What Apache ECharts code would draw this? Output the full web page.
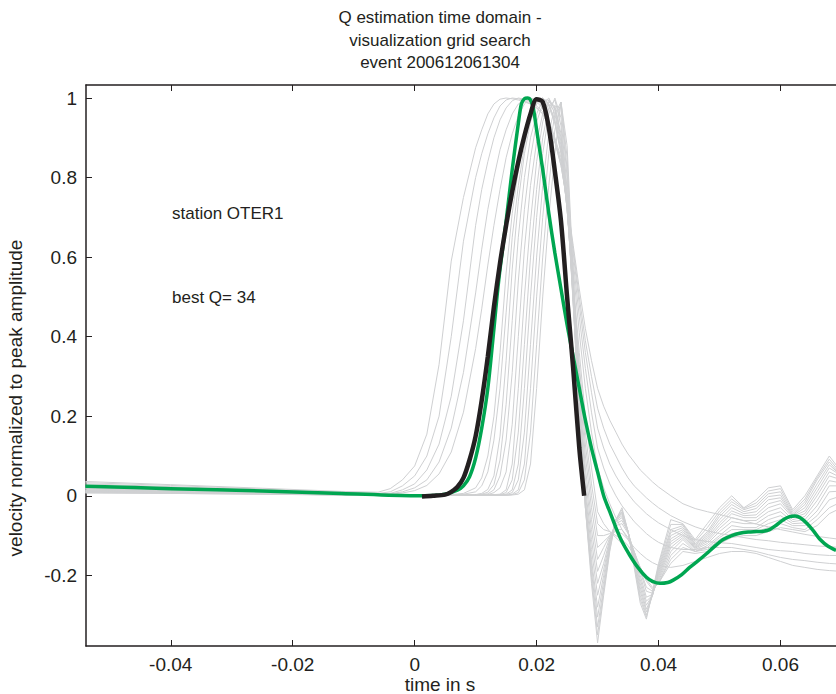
<!DOCTYPE html>
<html>
<head>
<meta charset="utf-8">
<script src="https://cdn.jsdelivr.net/npm/echarts@6.0.0/dist/echarts.min.js"></script>
<style>
html,body{margin:0;padding:0;background:#fff;}
#c{width:836px;height:694px;}
</style>
</head>
<body>
<div id="c"></div>
<script>
// ---- data (time in s, velocity normalized to peak amplitude) ----
const xTicks = [-0.04, -0.02, 0, 0.02, 0.04, 0.06];
const yTicks = [-0.2, 0, 0.2, 0.4, 0.6, 0.8, 1];

const titleLines = ['Q estimation time domain -', 'visualization grid search', 'event 200612061304'];
const stationText = 'station OTER1';
const bestQText = 'best Q= 34';
const xName = 'time in s';
const yName = 'velocity normalized to peak amplitude';

// common time grid of the grid-search (grey) traces
const gridT = [-0.054, -0.040, -0.025, -0.012, -0.006, -0.004, -0.002, 0.000, 0.002, 0.004, 0.006, 0.008,
  0.010, 0.011, 0.012, 0.013, 0.014, 0.015, 0.016, 0.017, 0.018, 0.019, 0.020, 0.021, 0.022, 0.023, 0.024,
  0.025, 0.026, 0.027, 0.028, 0.029, 0.030, 0.031, 0.032, 0.033, 0.034, 0.035, 0.036, 0.037, 0.038, 0.039, 0.040,
  0.042, 0.044, 0.046, 0.048, 0.050, 0.052, 0.054, 0.056, 0.058, 0.060, 0.062, 0.064, 0.066, 0.068, 0.070];

const grey0 = [0.036, 0.028, 0.019, 0.011,
  0.009, 0.018, 0.04, 0.075, 0.155, 0.33, 0.59, 0.75,
  0.875, 0.92, 0.96, 0.985, 0.997,
  1.0, 0.998, 0.995, 0.99, 0.985, 0.975, 0.96, 0.93, 0.89, 0.83,
  0.74, 0.63, 0.52, 0.42, 0.34, 0.27,
  0.225, 0.19, 0.16, 0.13, 0.105, 0.085, 0.065, 0.05, 0.035, 0.022,
  0.0, -0.02, -0.032, -0.04, -0.047, -0.055, -0.063, -0.071, -0.078, -0.085, -0.091, -0.097, -0.102, -0.106, -0.11];
const grey1 = [0.033, 0.026, 0.017, 0.009,
  0.006, 0.01, 0.025, 0.05, 0.1, 0.2, 0.4, 0.64,
  0.8, 0.86, 0.91, 0.95, 0.98,
  0.995, 1.0, 0.998, 0.993, 0.985, 0.975, 0.96, 0.93, 0.89, 0.83,
  0.74, 0.62, 0.5, 0.39, 0.3, 0.22,
  0.17, 0.13, 0.1, 0.07, 0.045, 0.025, 0.01, -0.005, -0.018, -0.03,
  -0.05, -0.065, -0.078, -0.088, -0.095, -0.1, -0.105, -0.11, -0.113, -0.117, -0.12, -0.123, -0.126, -0.128, -0.13];
const grey2 = [0.030, 0.023, 0.015, 0.008,
  0.005, 0.006, 0.015, 0.03, 0.065, 0.13, 0.25, 0.44,
  0.68, 0.77, 0.84, 0.9, 0.945,
  0.975, 0.993, 1.0, 0.997, 0.99, 0.98, 0.965, 0.935, 0.89, 0.84,
  0.74, 0.61, 0.48, 0.36, 0.26, 0.17,
  0.12, 0.08, 0.05, 0.025, 0.005, -0.015, -0.03, -0.045, -0.057, -0.068,
  -0.085, -0.1, -0.11, -0.115, -0.118, -0.12, -0.125, -0.13, -0.135, -0.138, -0.14, -0.145, -0.148, -0.15, -0.15];
const grey3 = [0.027, 0.021, 0.014, 0.007,
  0.004, 0.005, 0.01, 0.02, 0.04, 0.085, 0.17, 0.31,
  0.51, 0.62, 0.72, 0.8, 0.87,
  0.92, 0.96, 0.985, 0.997, 1.0, 0.99, 0.975, 0.94, 0.895, 0.84,
  0.73, 0.59, 0.45, 0.32, 0.21, 0.12,
  0.07, 0.03, 0.0, -0.025, -0.045, -0.065, -0.08, -0.095, -0.107, -0.117,
  -0.13, -0.135, -0.135, -0.13, -0.13, -0.13, -0.135, -0.14, -0.148, -0.155, -0.16, -0.163, -0.167, -0.17, -0.172];
const grey4 = [0.024, 0.019, 0.012, 0.006,
  0.004, 0.004, 0.007, 0.013, 0.026, 0.055, 0.11, 0.21,
  0.37, 0.47, 0.58, 0.68, 0.77,
  0.85, 0.91, 0.955, 0.985, 1.0, 0.995, 0.98, 0.945, 0.9, 0.85,
  0.73, 0.57, 0.41, 0.27, 0.16, 0.07,
  0.02, -0.02, -0.055, -0.085, -0.11, -0.13, -0.145, -0.158, -0.168, -0.175,
  -0.18, -0.175, -0.165, -0.155, -0.145, -0.14, -0.14, -0.145, -0.155, -0.165, -0.175, -0.18, -0.185, -0.188, -0.19];
const grey5 = [0.021, 0.016, 0.011, 0.005,
  0.003, 0.003, 0.002, 0.002, 0.002, 0.002, 0.003, 0.006,
  0.02, 0.045, 0.1, 0.2, 0.36,
  0.56, 0.71, 0.82, 0.9, 0.955, 0.99, 1.0, 0.98, 0.935, 0.86,
  0.72, 0.54, 0.36, 0.2, 0.07, -0.04,
  -0.07, -0.09, -0.105, -0.12, -0.14, -0.16, -0.185, -0.205, -0.22, -0.22,
  -0.17, -0.14, -0.145, -0.14, -0.12, -0.105, -0.1, -0.1, -0.09, -0.08, -0.085, -0.09, -0.075, -0.045, -0.03];
const grey5a = [0.020, 0.015, 0.010, 0.005,
  0.003, 0.002, 0.002, 0.002, 0.002, 0.002, 0.002, 0.004,
  0.01, 0.025, 0.06, 0.14, 0.27,
  0.46, 0.65, 0.78, 0.88, 0.95, 0.99, 1.0, 0.985, 0.94, 0.865,
  0.72, 0.53, 0.33, 0.16, 0.03, -0.07,
  -0.085, -0.09, -0.1, -0.11, -0.125, -0.15, -0.18, -0.21, -0.23, -0.22,
  -0.16, -0.13, -0.14, -0.135, -0.11, -0.095, -0.09, -0.09, -0.08, -0.07, -0.08, -0.085, -0.06, -0.03, -0.015];
const grey6 = [0.018, 0.014, 0.009, 0.004,
  0.003, 0.002, 0.002, 0.002, 0.002, 0.002, 0.002, 0.003,
  0.003, 0.006, 0.016, 0.05, 0.15,
  0.34, 0.57, 0.74, 0.86, 0.94, 0.985, 1.0, 0.985, 0.945, 0.87,
  0.72, 0.52, 0.31, 0.13, 0.0, -0.1,
  -0.1, -0.095, -0.09, -0.095, -0.11, -0.14, -0.18, -0.215, -0.235, -0.22,
  -0.15, -0.12, -0.14, -0.13, -0.105, -0.085, -0.085, -0.085, -0.07, -0.06, -0.075, -0.075, -0.05, -0.01, 0.0];
const grey6a = [0.017, 0.013, 0.009, 0.004,
  0.002, 0.002, 0.002, 0.002, 0.001, 0.001, 0.001, 0.002,
  0.003, 0.004, 0.009, 0.028, 0.09,
  0.23, 0.44, 0.65, 0.8, 0.9, 0.96, 0.995, 0.995, 0.96, 0.88,
  0.72, 0.51, 0.28, 0.1, -0.03, -0.13,
  -0.115, -0.1, -0.085, -0.085, -0.105, -0.14, -0.185, -0.23, -0.24, -0.215,
  -0.14, -0.11, -0.14, -0.125, -0.1, -0.075, -0.08, -0.08, -0.06, -0.05, -0.07, -0.068, -0.038, 0.01, 0.012];
const grey7 = [0.015, 0.012, 0.008, 0.004,
  0.002, 0.002, 0.002, 0.001, 0.001, 0.001, 0.001, 0.002,
  0.002, 0.003, 0.005, 0.015, 0.05,
  0.14, 0.31, 0.54, 0.72, 0.85, 0.94, 0.985, 1.0, 0.97, 0.89,
  0.73, 0.5, 0.26, 0.07, -0.06, -0.16,
  -0.13, -0.1, -0.075, -0.07, -0.095, -0.14, -0.19, -0.24, -0.245, -0.21,
  -0.13, -0.105, -0.135, -0.12, -0.09, -0.065, -0.07, -0.07, -0.05, -0.04, -0.065, -0.06, -0.025, 0.025, 0.025];
const grey7a = [0.014, 0.011, 0.007, 0.003,
  0.002, 0.002, 0.001, 0.001, 0.001, 0.001, 0.001, 0.001,
  0.002, 0.002, 0.003, 0.008, 0.02,
  0.06, 0.18, 0.4, 0.62, 0.78, 0.89, 0.96, 0.995, 0.975, 0.9,
  0.735, 0.49, 0.24, 0.045, -0.085, -0.19,
  -0.15, -0.105, -0.07, -0.062, -0.092, -0.145, -0.2, -0.255, -0.248, -0.205,
  -0.122, -0.1, -0.132, -0.115, -0.082, -0.055, -0.062, -0.062, -0.04, -0.03, -0.06, -0.052, -0.012, 0.038, 0.032];
const grey8 = [0.013, 0.010, 0.007, 0.003,
  0.002, 0.002, 0.001, 0.001, 0.001, 0.001, 0.001, 0.001,
  0.001, 0.002, 0.002, 0.003, 0.004,
  0.015, 0.08, 0.27, 0.5, 0.69, 0.84, 0.94, 0.99, 0.98, 0.91,
  0.74, 0.48, 0.22, 0.02, -0.11, -0.22,
  -0.17, -0.11, -0.065, -0.055, -0.09, -0.15, -0.21, -0.265, -0.25, -0.2,
  -0.115, -0.095, -0.13, -0.11, -0.075, -0.045, -0.055, -0.055, -0.03, -0.02, -0.055, -0.045, 0.0, 0.05, 0.04];
const grey8a = [0.012, 0.009, 0.006, 0.003,
  0.002, 0.001, 0.001, 0.001, 0.001, 0.001, 0.001, 0.001,
  0.001, 0.002, 0.002, 0.002, 0.003,
  0.008, 0.04, 0.16, 0.38, 0.6, 0.77, 0.9, 0.975, 0.995, 0.93,
  0.755, 0.485, 0.21, 0.005, -0.135, -0.25,
  -0.185, -0.115, -0.062, -0.05, -0.09, -0.155, -0.22, -0.275, -0.25, -0.195,
  -0.108, -0.09, -0.128, -0.105, -0.068, -0.038, -0.05, -0.048, -0.02, -0.012, -0.052, -0.038, 0.01, 0.06, 0.045];
const grey9 = [0.011, 0.009, 0.006, 0.003,
  0.002, 0.001, 0.001, 0.001, 0.001, 0.001, 0.001, 0.001,
  0.001, 0.001, 0.002, 0.002, 0.002,
  0.004, 0.015, 0.08, 0.27, 0.5, 0.7, 0.86, 0.96, 1.0, 0.95,
  0.77, 0.49, 0.2, -0.01, -0.16, -0.28,
  -0.2, -0.12, -0.06, -0.045, -0.09, -0.16, -0.23, -0.285, -0.25, -0.19,
  -0.1, -0.085, -0.125, -0.1, -0.06, -0.03, -0.045, -0.04, -0.01, -0.005, -0.05, -0.03, 0.02, 0.07, 0.05];
const grey9a = [0.010, 0.008, 0.005, 0.002,
  0.001, 0.001, 0.001, 0.001, 0.001, 0.001, 0.001, 0.001,
  0.001, 0.001, 0.001, 0.002, 0.002,
  0.003, 0.008, 0.04, 0.16, 0.38, 0.6, 0.78, 0.91, 0.98, 0.975,
  0.8, 0.505, 0.205, -0.02, -0.175, -0.305,
  -0.215, -0.125, -0.06, -0.042, -0.09, -0.165, -0.24, -0.292, -0.25, -0.185,
  -0.092, -0.08, -0.122, -0.095, -0.052, -0.022, -0.04, -0.032, -0.002, 0.002, -0.048, -0.022, 0.03, 0.078, 0.05];
const grey10 = [0.009, 0.007, 0.005, 0.002,
  0.001, 0.001, 0.001, 0.001, 0.001, 0.001, 0.001, 0.001,
  0.001, 0.001, 0.001, 0.001, 0.002,
  0.002, 0.004, 0.015, 0.08, 0.27, 0.5, 0.7, 0.86, 0.96, 0.99,
  0.82, 0.52, 0.21, -0.03, -0.19, -0.33,
  -0.23, -0.13, -0.06, -0.04, -0.09, -0.17, -0.25, -0.3, -0.25, -0.18,
  -0.085, -0.075, -0.12, -0.09, -0.045, -0.015, -0.035, -0.025, 0.005, 0.01, -0.045, -0.015, 0.04, 0.085, 0.05];
const grey10a = [0.008, 0.006, 0.004, 0.002,
  0.001, 0.001, 0.001, 0.001, 0.001, 0.001, 0.001, 0.001,
  0.001, 0.001, 0.001, 0.001, 0.001,
  0.001, 0.003, 0.008, 0.04, 0.16, 0.38, 0.6, 0.78, 0.92, 0.99,
  0.85, 0.54, 0.225, -0.03, -0.205, -0.35,
  -0.24, -0.135, -0.06, -0.035, -0.09, -0.175, -0.26, -0.305, -0.245, -0.175,
  -0.072, -0.072, -0.115, -0.08, -0.038, -0.008, -0.032, -0.018, 0.012, 0.018, -0.04, -0.008, 0.045, 0.092, 0.055];
const grey11 = [0.007, 0.006, 0.004, 0.002,
  0.001, 0.001, 0.001, 0.001, 0.001, 0.001, 0.001, 0.001,
  0.001, 0.001, 0.001, 0.001, 0.001,
  0.001, 0.002, 0.004, 0.015, 0.08, 0.27, 0.5, 0.7, 0.86, 0.99,
  0.88, 0.56, 0.24, -0.03, -0.22, -0.37,
  -0.25, -0.14, -0.06, -0.03, -0.09, -0.18, -0.27, -0.31, -0.24, -0.17,
  -0.06, -0.07, -0.11, -0.07, -0.03, 0.0, -0.03, -0.01, 0.02, 0.025, -0.035, 0.0, 0.05, 0.1, 0.06];

// best-fit synthetic (green)
const greenT = [-0.054, -0.040, -0.025, -0.012, 0.000, 0.003, 0.005, 0.007, 0.008, 0.009, 0.010, 0.011, 0.012,
  0.013, 0.0135, 0.014, 0.015, 0.016, 0.017, 0.0175, 0.018, 0.0185, 0.019, 0.0195, 0.020, 0.021, 0.022, 0.023,
  0.024, 0.025, 0.026, 0.027, 0.028, 0.029, 0.030, 0.031, 0.032, 0.033, 0.034, 0.0353, 0.0366, 0.038, 0.039,
  0.0402, 0.0415, 0.0424, 0.0438, 0.0451, 0.0465, 0.0479, 0.0492, 0.0506, 0.052, 0.0533, 0.0547, 0.0561, 0.0572,
  0.0582, 0.0593, 0.0604, 0.0614, 0.0624, 0.0633, 0.0643, 0.0654, 0.0665, 0.0678, 0.0691];
const greenV = [0.024, 0.018, 0.012, 0.006, 0.0, 0.001, 0.004, 0.014, 0.025, 0.048, 0.095, 0.17, 0.27,
  0.42, 0.5, 0.57, 0.69, 0.82, 0.936, 0.985, 0.998, 1.0, 0.995, 0.97, 0.92, 0.82, 0.71, 0.61,
  0.52, 0.43, 0.35, 0.27, 0.19, 0.12, 0.06, 0.0, -0.04, -0.08, -0.115, -0.15, -0.18, -0.205, -0.215,
  -0.22, -0.218, -0.212, -0.198, -0.18, -0.163, -0.145, -0.127, -0.11, -0.1, -0.094, -0.091, -0.09, -0.089,
  -0.085, -0.074, -0.061, -0.053, -0.051, -0.056, -0.069, -0.088, -0.11, -0.127, -0.137];

// observed pulse (black)
const blackT = [0.0012, 0.003, 0.005, 0.006, 0.007, 0.008, 0.009, 0.010, 0.011, 0.012, 0.013, 0.014, 0.015,
  0.016, 0.017, 0.018, 0.019, 0.020, 0.021, 0.022, 0.023, 0.024, 0.025, 0.026, 0.027, 0.0278];
const blackV = [-0.002, 0.0, 0.003, 0.01, 0.022, 0.045, 0.09, 0.15, 0.24, 0.35, 0.475, 0.585, 0.68,
  0.765, 0.84, 0.905, 0.96, 0.997, 0.99, 0.925, 0.815, 0.69, 0.50, 0.32, 0.12, 0.0];

const greyCurves = [grey0, grey1, grey2, grey3, grey4, grey5, grey5a, grey6, grey6a, grey7, grey7a,
  grey8, grey8a, grey9, grey9a, grey10, grey10a, grey11];

// ---- chart ----
const FONT = '"Liberation Sans", Arial, Helvetica, sans-serif';
const INK = '#231f20';
const pair = (ts, vs) => ts.map((t, i) => [t, vs[i]]);

const series = [];
greyCurves.forEach((g, k) => {
  series.push({
    type: 'line', name: 'grey' + k, data: pair(gridT, g), showSymbol: false, symbol: 'none',
    lineStyle: { color: '#cfd0d2', width: 1 }, z: 1, silent: true, clip: true
  });
});
series.push({
  type: 'line', name: 'best', data: pair(greenT, greenV), showSymbol: false, symbol: 'none', smooth: 0.3,
  lineStyle: { color: '#00a651', width: 3.5 }, z: 3, silent: true, clip: true
});
series.push({
  type: 'line', name: 'observed', data: pair(blackT, blackV), showSymbol: false, symbol: 'none', smooth: 0.3,
  lineStyle: { color: INK, width: 4.5 }, z: 4, silent: true, clip: true
});

const axisLineStyle = { color: INK, width: 1.5 };
const xMin = -0.0539, xMax = 0.0691, yMin = -0.3776, yMax = 1.0327;

const option = {
  animation: false,
  backgroundColor: '#ffffff',
  grid: { left: 86, top: 85, width: 750, height: 561 },
  xAxis: [
    {
      type: 'value', min: xMin, max: xMax, position: 'bottom',
      axisLine: { show: true, onZero: false, lineStyle: axisLineStyle },
      axisTick: { show: true, inside: true, length: 6, customValues: xTicks, lineStyle: { color: INK, width: 1 } },
      axisLabel: { show: true, customValues: xTicks, margin: 9, fontSize: 19, color: INK, fontFamily: FONT,
        formatter: v => String(v) },
      splitLine: { show: false }
    },
    {
      type: 'value', min: xMin, max: xMax, position: 'top',
      axisLine: { show: true, onZero: false, lineStyle: axisLineStyle },
      axisTick: { show: true, inside: true, length: 6, customValues: xTicks, lineStyle: { color: INK, width: 1 } },
      axisLabel: { show: false },
      splitLine: { show: false }
    }
  ],
  yAxis: [
    {
      type: 'value', min: yMin, max: yMax, position: 'left',
      axisLine: { show: true, onZero: false, lineStyle: axisLineStyle },
      axisTick: { show: true, inside: true, length: 6, customValues: yTicks, lineStyle: { color: INK, width: 1 } },
      axisLabel: { show: true, customValues: yTicks, margin: 9, fontSize: 19, color: INK, fontFamily: FONT,
        formatter: v => String(v) },
      splitLine: { show: false }
    }
  ],
  graphic: [
    { type: 'text', x: 440, y: 17, style: { text: titleLines[0], font: '17px ' + FONT, fill: INK, textAlign: 'center', textVerticalAlign: 'middle' } },
    { type: 'text', x: 440, y: 40, style: { text: titleLines[1], font: '17px ' + FONT, fill: INK, textAlign: 'center', textVerticalAlign: 'middle' } },
    { type: 'text', x: 440, y: 62, style: { text: titleLines[2], font: '17px ' + FONT, fill: INK, textAlign: 'center', textVerticalAlign: 'middle' } },
    { type: 'text', x: 172, y: 213, style: { text: stationText, font: '17px ' + FONT, fill: INK, textAlign: 'left', textVerticalAlign: 'middle' } },
    { type: 'text', x: 172, y: 297, style: { text: bestQText, font: '17px ' + FONT, fill: INK, textAlign: 'left', textVerticalAlign: 'middle' } },
    { type: 'text', x: 440, y: 684, style: { text: xName, font: '19px ' + FONT, fill: INK, textAlign: 'center', textVerticalAlign: 'middle' } },
    { type: 'text', x: 15, y: 398, rotation: Math.PI / 2, style: { text: yName, font: '19px ' + FONT, fill: INK, textAlign: 'center', textVerticalAlign: 'middle' } }
  ],
  series: series
};

const chart = echarts.init(document.getElementById('c'), null, { renderer: 'svg', width: 836, height: 694 });
chart.setOption(option);
</script>
</body>
</html>
